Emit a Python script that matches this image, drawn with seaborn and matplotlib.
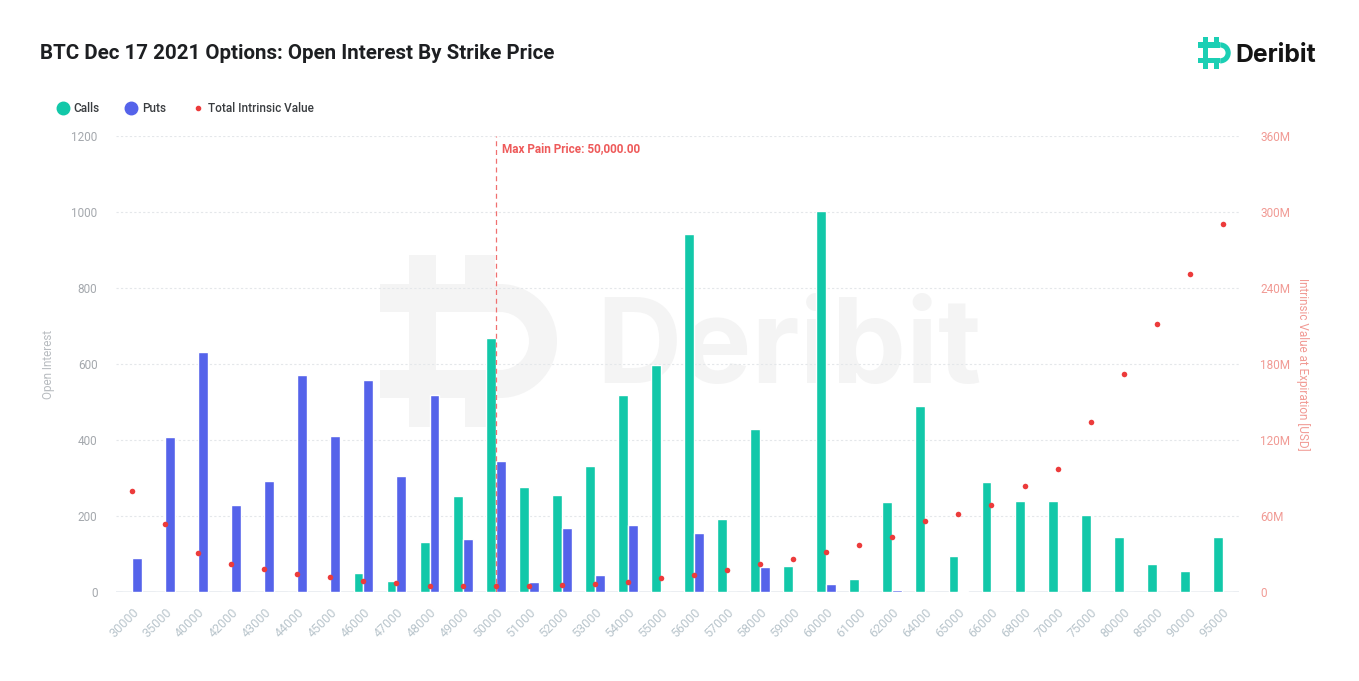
import numpy as np
import pandas as pd
import matplotlib
matplotlib.use("Agg")
import matplotlib.pyplot as plt
from matplotlib.lines import Line2D
from matplotlib.patches import Rectangle, Wedge
from matplotlib.transforms import Affine2D
from matplotlib.ticker import FuncFormatter, MultipleLocator
import seaborn as sns

strikes = ["30000", "35000", "40000", "42000", "43000", "44000", "45000", "46000",
           "47000", "48000", "49000", "50000", "51000", "52000", "53000", "54000",
           "55000", "56000", "57000", "58000", "59000", "60000", "61000", "62000",
           "64000", "65000", "66000", "68000", "70000", "75000", "80000", "85000",
           "90000", "95000"]
calls = [0, 0, 0, 0, 0, 0, 0, 51, 30, 131, 253, 670, 278, 257, 331, 520,
         599, 943, 193, 430, 69, 1003, 34, 237, 489, 95, 289, 241, 241, 203,
         145, 75, 57, 145]
puts = [90, 408, 633, 230, 292, 571, 410, 559, 307, 520, 141, 345, 27, 170, 45,
        176, 0, 155, 0, 66, 0, 23, 0, 6, 0, 3, 0, 0, 0, 0, 0, 0, 0, 0]
intrinsic_musd = [80, 54, 30.8, 22.6, 18.1, 14.4, 11.8, 8.9, 7.1, 5.2, 4.7, 5.0,
                  4.7, 5.5, 6.5, 8.4, 11.0, 13.7, 17.4, 22.0, 26.5, 31.6, 37.0,
                  43.4, 56.0, 61.5, 68.5, 83.5, 97.5, 134.5, 172.5, 211.5, 251,
                  290.5]
max_pain = "50000"

calls_color = "#12c8a9"
puts_color = "#5563ea"
iv_color = "#ec3b3b"

sns.set_theme(style="white")
plt.rcParams["font.family"] = ["Roboto", "DejaVu Sans"]

df = pd.DataFrame({
    "strike": strikes * 2,
    "type": ["Calls"] * len(strikes) + ["Puts"] * len(strikes),
    "oi": calls + puts,
})
iv_df = pd.DataFrame({"strike": strikes,
                      "iv": [v * 1e6 for v in intrinsic_musd]})

W, H = 1359, 681
fig = plt.figure(figsize=(W / 100, H / 100), dpi=100)
ax = fig.add_axes([0.085, 0.1303, 0.827, 0.67])
pix = Affine2D().scale(1 / W, -1 / H).translate(0, 1) + fig.transFigure


def draw_icon(target, x0, y0, s, color, zorder):
    """Deribit-style icon; geometry in pixel units relative to (x0, y0)."""
    t = 28 * s
    parts = [
        Rectangle((x0, y0 + 29 * s), 120 * s, t),           # top bar
        Rectangle((x0, y0 + 115 * s), 120 * s, t),          # bottom bar
        Rectangle((x0 + 29 * s, y0), 27 * s, 172 * s),      # main stem
        Rectangle((x0 + 85 * s, y0), 30 * s, 30 * s),       # upper stub
        Rectangle((x0 + 85 * s, y0 + 142 * s), 30 * s, 30 * s),  # lower stub
        Wedge((x0 + 120 * s, y0 + 86 * s), 57 * s, -90, 90, width=t),
    ]
    for p in parts:
        p.set_facecolor(color)
        p.set_edgecolor("none")
        p.set_transform(pix)
        p.set_zorder(zorder)
        p.set_clip_on(False)
        target.add_artist(p)


# watermark
wm = "#f4f4f4"
draw_icon(ax, 380, 255, 1.0, wm, 0.1)
ax.text(596 / W, 1 - 383 / H, "Deribit", transform=fig.transFigure, fontsize=85,
        fontweight="bold", color=wm, ha="left", va="baseline", zorder=0.1,
        family="Inter")

sns.barplot(data=df, x="strike", y="oi", hue="type", hue_order=["Calls", "Puts"],
            palette=[calls_color, puts_color], width=0.6, ax=ax, legend=False,
            saturation=1, zorder=2)
ax.set_ylim(0, 1200)
ax.set_xlim(-0.5, len(strikes) - 0.5)
ax.yaxis.set_major_locator(MultipleLocator(200))
ax.set_axisbelow(True)
ax.grid(axis="y", color="#e4e7ea", linestyle=(0, (2, 2)), linewidth=0.8)
ax.grid(axis="x", visible=False)
for s in ax.spines.values():
    s.set_visible(False)
ax.axhline(0, color="#e8ebf0", linewidth=1.2, zorder=1)
ax.tick_params(axis="y", length=0, pad=13, labelsize=8.5, labelcolor="#a4a8ad")
ax.tick_params(axis="x", length=0, pad=10, labelsize=9, labelcolor="#b9c5cc")
ax.set_xticks(range(len(strikes)))
ax.set_xticklabels(strikes, rotation=45, ha="right", rotation_mode="anchor")
ax.set_xlabel("")
ax.set_ylabel("Open Interest", color="#b8bcc0", fontsize=8.5, labelpad=12)

mp = strikes.index(max_pain)
ax.axvline(mp, color="#f07070", linestyle=(0, (4, 3)), linewidth=0.9, zorder=3)
ax.text(mp + 0.2, 1185, "Max Pain Price: 50,000.00", color="#ee5a5a",
        fontsize=8.5, fontweight="bold", va="top", ha="left", zorder=4)

ax2 = ax.twinx()
sns.stripplot(data=iv_df, x="strike", y="iv", jitter=False, color=iv_color,
              size=4, ax=ax2, zorder=5, linewidth=0)
ax2.set_xlim(-0.5, len(strikes) - 0.5)
ax2.set_ylim(0, 360e6)
ax2.yaxis.set_major_locator(MultipleLocator(60e6))
ax2.yaxis.set_major_formatter(FuncFormatter(lambda v, p: "0" if v == 0 else f"{int(round(v / 1e6))}M"))
for s in ax2.spines.values():
    s.set_visible(False)
ax2.tick_params(axis="y", length=0, pad=15, labelsize=8.5, labelcolor="#f19a94")
ax2.set_ylabel("Intrinsic Value at Expiration [USD]", color="#f19a94",
               fontsize=8.5, rotation=270, labelpad=14)
ax2.set_xlabel("")
ax2.grid(False)

# title
fig.text(0.0295, 0.921, "BTC Dec 17 2021 Options: Open Interest By Strike Price",
         fontsize=14.8, fontweight="bold", color="#1d1f22", va="center", ha="left")

# logo
draw_icon(fig, 1198, 37, 0.185, "#1bcfb4", 5)
fig.text(1235 / W, 1 - 62 / H, "Deribit", fontsize=17.8, fontweight="bold",
         color="#141414", va="baseline", ha="left", family="Inter")

# legend
handles = [
    Line2D([], [], marker="o", linestyle="", markersize=9, color=calls_color),
    Line2D([], [], marker="o", linestyle="", markersize=9, color=puts_color),
    Line2D([], [], marker="o", linestyle="", markersize=3, color=iv_color),
]
fig.legend(handles, ["Calls", "Puts", "Total Intrinsic Value"], ncol=3,
           loc="center left", bbox_to_anchor=(0.034, 0.841), frameon=False,
           prop={"size": 8.5, "weight": "medium"}, handletextpad=0.4,
           columnspacing=2.2, handlelength=1.0, labelcolor="#3a3d40")

fig.savefig("out.png", dpi=100)
